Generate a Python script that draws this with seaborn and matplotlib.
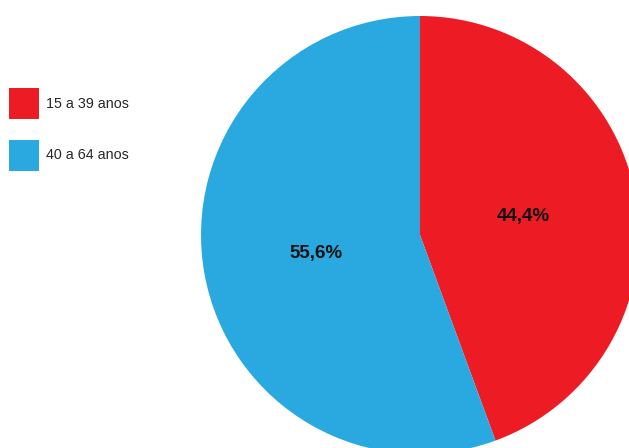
import matplotlib
matplotlib.use('Agg')
import matplotlib.pyplot as plt
import seaborn as sns

faixas = ["15 a 39 anos", "40 a 64 anos"]
percentuais = [44.4, 55.6]
cores = ["#ED1C24", "#29A9E0"]

sns.set_theme(style="white")
plt.rcParams['font.family'] = ['Liberation Sans', 'DejaVu Sans']

fig = plt.figure(figsize=(6.29, 4.48), dpi=100)
ax = fig.add_axes([0, 0, 1, 1])

wedges, _, autotexts = ax.pie(
    percentuais,
    colors=sns.color_palette(cores),
    startangle=90,
    counterclock=False,
    autopct=lambda p: f"{p:.1f}%".replace(".", ","),
    pctdistance=0.48,
    wedgeprops=dict(linewidth=0),
    textprops=dict(fontsize=13.5, fontweight="bold", color="#111111"),
)

# pie radius 219 px, centre at (420, 235) px from top-left
r = 219.0
ax.set_xlim(-420 / r, (629 - 420) / r)
ax.set_ylim(-(448 - 235) / r, 235 / r)
ax.set_aspect("auto")
ax.axis("off")

fig.legend(
    wedges, faixas,
    loc="upper left",
    bbox_to_anchor=(9 / 629, 1 - 88 / 448),
    frameon=False,
    fontsize=10.3,
    handlelength=2.1,
    handleheight=2.96,
    handletextpad=0.5,
    labelspacing=1.45,
    borderpad=0,
    borderaxespad=0,
)

fig.savefig("out.png", dpi=100, facecolor="white")
plt.close(fig)
